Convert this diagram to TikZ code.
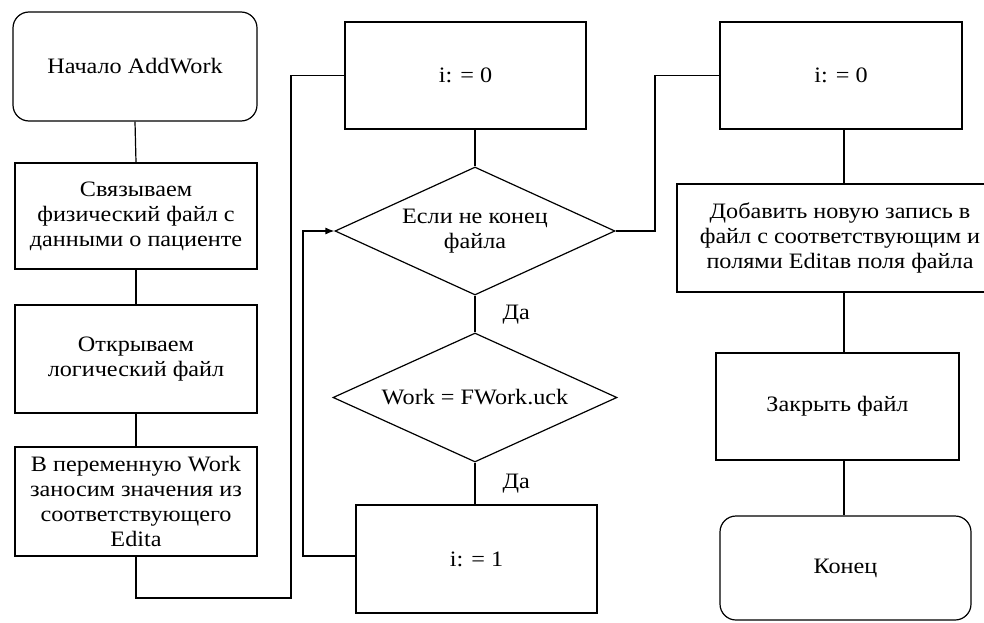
\documentclass[tikz,border=0pt]{standalone}
\usepackage{fontspec}
\setmainfont{Liberation Serif}[FakeStretch=1.1]
\usetikzlibrary{shapes.geometric,arrows.meta,calc}
\begin{document}
\begin{tikzpicture}[x=1pt,y=-1pt,line width=1.2pt,
  txt/.style={font=\fontsize{22}{25}\selectfont},
  box/.style={draw,rectangle,inner sep=0pt,align=center,txt},
  term/.style={draw,rectangle,rounded corners=16pt,inner sep=0pt,align=center,txt},
  cond/.style={draw,diamond,aspect=2.2,inner sep=0pt,align=center,txt},
  lbl/.style={anchor=west,inner sep=0pt,txt},
  arr/.style={-{Latex[length=9pt,width=7pt]}}]
\useasboundingbox (0,0) rectangle (984,623);
% left column
\node[term,minimum width=244pt,minimum height=109pt] (start) at (135,66.5) {Начало AddWork};
\node[box,minimum width=242pt,minimum height=106pt] (b2) at (136,216) {Связываем\\физический файл с\\данными о пациенте};
\node[box,minimum width=242pt,minimum height=108pt] (b3) at (136,359) {Открываем\\логический файл};
\node[box,minimum width=242pt,minimum height=109pt] (b4) at (136,501.5) {В переменную Work\\заносим значения из\\соответствующего\\Edita};
% middle column
\node[box,minimum width=241pt,minimum height=107pt] (A) at (465.5,75.5) {i: = 0};
\node[cond,minimum width=280pt,minimum height=128pt] (d1) at (475,231) {Если не конец\\файла};
\node[cond,minimum width=284pt,minimum height=129pt] (d2) at (475,397.5) {Work = FWork.uck};
\node[box,minimum width=241pt,minimum height=108pt] (i1) at (476.5,559) {i: = 1};
\node[lbl] (da1) at (502,315) {Да};
\node[lbl] (da2) at (502,484) {Да};
% right column
\node[box,minimum width=242pt,minimum height=107pt] (B) at (841,75.5) {i: = 0};
\node[box,minimum width=326pt,minimum height=108pt] (C) at (840,238) {Добавить новую запись в\\файл с соответствующим и\\полями Editaв поля файла};
\node[box,minimum width=243pt,minimum height=107pt] (D) at (837.5,406.5) {Закрыть файл};
\node[term,minimum width=251pt,minimum height=104pt] (E) at (845.5,568) {Конец};
% connectors
\draw (start.south) -- (b2.north);
\draw (b2.south) -- (b3.north);
\draw (b3.south) -- (b4.north);
\coordinate (lb) at (291,598);
\draw (b4.south) |- (lb) |- (A.west);
\draw (A.south -| d1.north) -- (d1.north);
\draw (d1.south) -- (d2.north);
\draw (d2.south) -- (d2.south |- i1.north);
\coordinate (lp) at (303,556);
\draw[arr] (i1.west |- lp) -- (lp) |- (d1.west);
\coordinate (rp) at (655,231);
\draw (d1.east) -- (rp) |- (B.west);
\coordinate (cx) at (844,0);
\draw (cx |- B.south) -- (cx |- C.north);
\draw (cx |- C.south) -- (cx |- D.north);
\draw (cx |- D.south) -- (cx |- E.north);
\end{tikzpicture}
\end{document}
